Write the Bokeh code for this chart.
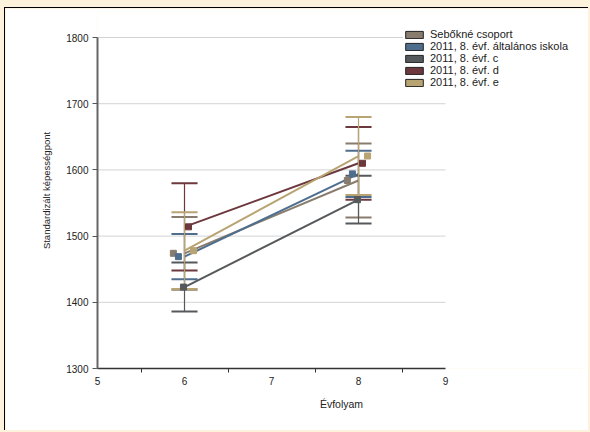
from bokeh.plotting import figure
from bokeh.models import ColumnDataSource, FixedTicker, Legend, LegendItem, Range1d
from bokeh.embed import file_html
from bokeh.resources import INLINE

# ---- data ----
series = ["Sebőkné csoport", "2011, 8. évf. általános iskola", "2011, 8. évf. c",
          "2011, 8. évf. d", "2011, 8. évf. e"]
grades = [6, 8]
mean_6 = [1474, 1469, 1423, 1514, 1478]
mean_8 = [1584, 1594, 1555, 1610, 1621]
err_6 = [55, 34, 37, 66, 58]
err_8 = [56, 35, 36, 55, 59]
x_ticks = [5, 6, 7, 8, 9]
y_ticks = [1300, 1400, 1500, 1600, 1700, 1800]

colors = ["#877c6d", "#4f6e8e", "#56595b", "#6c383d", "#b8a372"]

FONT = "Liberation Sans"

# frame extends beyond the axes so the legend (which overhangs the axes) is not clipped
p = figure(width=584, height=423, output_backend="svg", toolbar_location=None,
           x_range=Range1d(5, 10.609), y_range=Range1d(1300, 1837.8),
           min_border_left=92, min_border_right=4, min_border_top=4, min_border_bottom=63,
           background_fill_color="white", border_fill_color="white")
p.styles = {"border-top": "1px solid #000", "border-left": "1px solid #000",
            "margin-left": "4px", "margin-top": "7px"}
p.outline_line_color = None

# grid (drawn only across the axes' extent)
p.xgrid.grid_line_color = None
p.ygrid.grid_line_color = None
gy = y_ticks[1:]
p.segment(x0=[x_ticks[0]] * len(gy), x1=[x_ticks[-1]] * len(gy), y0=gy, y1=gy,
          line_color="#d4d4d4", line_width=1, level="underlay")

# axes
p.xaxis.bounds = (x_ticks[0], x_ticks[-1])
p.yaxis.bounds = (y_ticks[0], y_ticks[-1])
p.xaxis.ticker = FixedTicker(ticks=x_ticks, minor_ticks=[5.5, 6.5, 7.5, 8.5])
p.xaxis.major_tick_line_color = None
p.xaxis.major_tick_out = 4
p.xaxis.major_tick_in = 0
p.xaxis.minor_tick_line_color = "#333333"
p.xaxis.minor_tick_out = 4
p.xaxis.minor_tick_in = 0
p.xaxis.axis_line_color = "#333333"
p.xaxis.axis_line_width = 1.5
p.xaxis.axis_label = "Évfolyam"
p.xaxis.axis_label_standoff = 10

p.yaxis.ticker = FixedTicker(ticks=y_ticks, minor_ticks=[])
p.yaxis.major_tick_line_color = "#555555"
p.yaxis.major_tick_out = 5
p.yaxis.major_tick_in = 0
p.yaxis.axis_line_color = "#666666"
p.yaxis.axis_line_width = 2
p.yaxis.axis_label = "Standardizált képességpont"
p.yaxis.axis_label_standoff = 11

for ax in (p.xaxis[0], p.yaxis[0]):
    ax.major_label_text_font = FONT
    ax.major_label_text_font_size = "10px"
    ax.major_label_text_color = "#222222"
    ax.major_label_standoff = 4
    ax.axis_label_text_font = FONT
    ax.axis_label_text_font_style = "normal"
    ax.axis_label_text_color = "#222222"
p.xaxis.axis_label_text_font_size = "10.5px"
p.yaxis.axis_label_text_font_size = "9.5px"

n = len(series)
cap_half = 0.15
dodge = [(i - (n - 1) / 2) * 0.058 - 0.012 for i in range(n)]

items = []
for i, name in enumerate(series):
    c = colors[i]
    means = [mean_6[i], mean_8[i]]
    errs = [err_6[i], err_8[i]]
    lo = [m - e for m, e in zip(means, errs)]
    hi = [m + e for m, e in zip(means, errs)]
    src = ColumnDataSource(dict(
        x=grades, m=means, lo=lo, hi=hi,
        cx0=[g - cap_half for g in grades], cx1=[g + cap_half for g in grades]))
    # error bars
    p.segment(x0="x", y0="lo", x1="x", y1="hi", source=src, line_color=c, line_width=1.2)
    p.segment(x0="cx0", y0="lo", x1="cx1", y1="lo", source=src, line_color=c, line_width=2)
    p.segment(x0="cx0", y0="hi", x1="cx1", y1="hi", source=src, line_color=c, line_width=2)
    # trend line
    p.line(x="x", y="m", source=src, line_color=c, line_width=2)

nan = float("nan")
for i, name in enumerate(series):
    c = colors[i]
    src = ColumnDataSource(dict(xd=[g + dodge[i] for g in grades], m=[mean_6[i], mean_8[i]]))
    p.scatter(x="xd", y="m", source=src, marker="square", size=6, fill_color=c, line_color=c)
    # swatch-only renderer for the legend (no visible mark)
    dummy = p.quad(left=[nan], right=[nan], top=[nan], bottom=[nan], fill_color=c,
                   line_color="#222222", line_width=1)
    items.append(LegendItem(label=name, renderers=[dummy]))

legend = Legend(items=items, location=(306, 280), orientation="vertical",
                background_fill_color="white", background_fill_alpha=1,
                border_line_color=None, padding=4, spacing=0, margin=0,
                glyph_width=22, glyph_height=9, label_height=12, label_standoff=5,
                label_text_font=FONT, label_text_font_size="11px", label_text_color="#222222")
p.add_layout(legend, "center")

html = file_html(p, INLINE)
html = html.replace("</head>",
                    "<style>html, body { background-color: #fdf3dc !important; }</style></head>", 1)
open("out.html", "w").write(html)
